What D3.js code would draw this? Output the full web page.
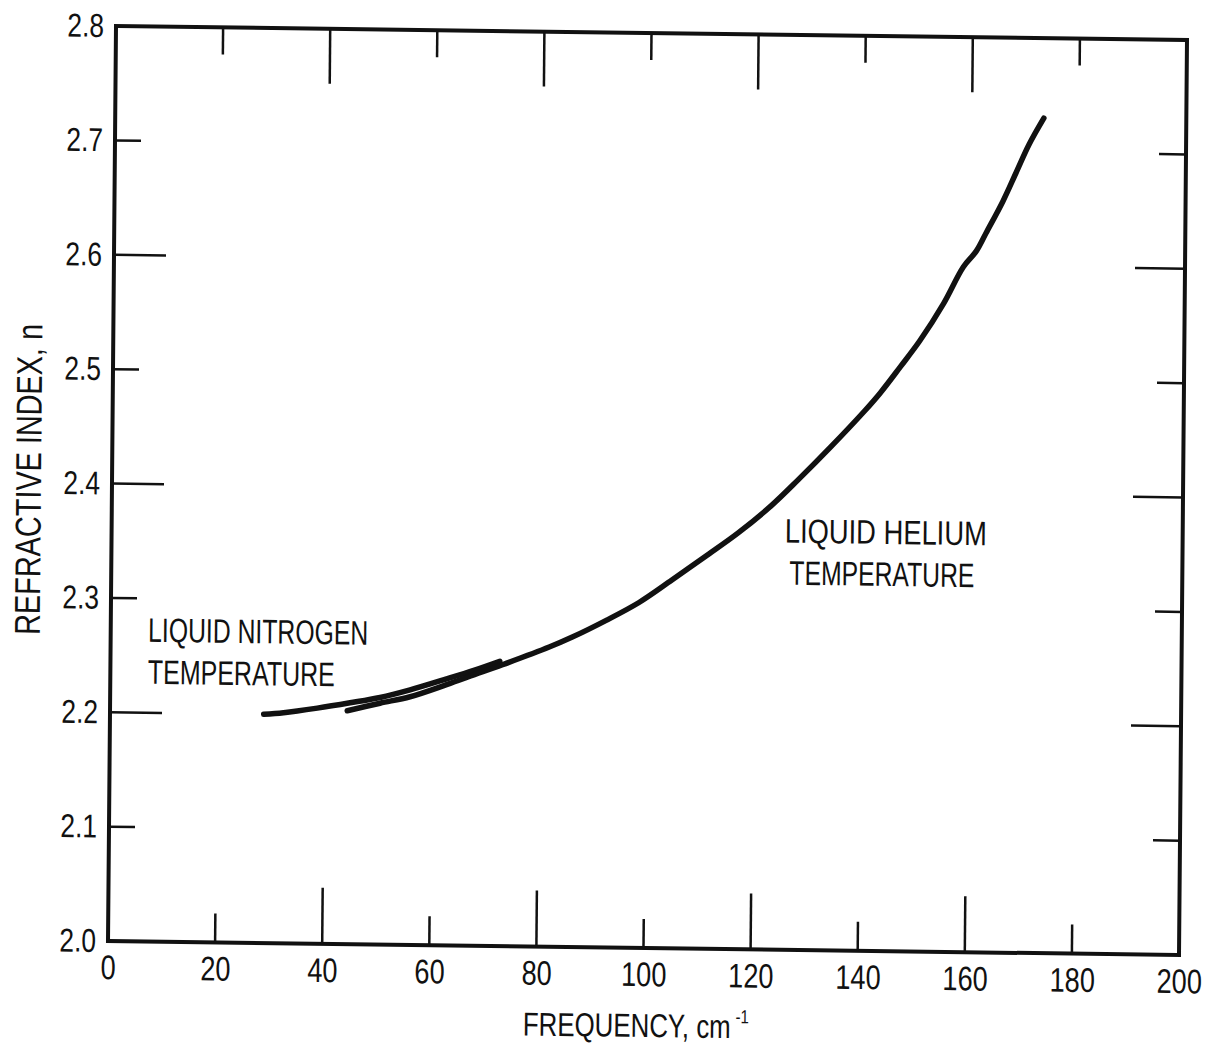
<!DOCTYPE html>
<html>
<head>
<meta charset="UTF-8">
<title>Refractive index vs frequency</title>
<script src="https://d3js.org/d3.v7.min.js"></script>
<style>
  body { margin: 0; background: #fff; }
  svg { display: block; background: #fff; }
  text { font-family: "Liberation Sans", Arial, sans-serif; fill: #111; }
  .frame { fill: none; stroke: #111; stroke-width: 4; }
  .tick-mark { stroke: #111; stroke-width: 2.5; }
  .curve { fill: none; stroke: #111; stroke-width: 5.5; stroke-linecap: round; stroke-linejoin: round; }
</style>
</head>
<body>
<svg id="chart" width="1213" height="1047"></svg>
<script>

// axis ticks
const xTicks = [0, 20, 40, 60, 80, 100, 120, 140, 160, 180, 200];
const yTicks = [2.0, 2.1, 2.2, 2.3, 2.4, 2.5, 2.6, 2.7, 2.8];

// liquid helium temperature curve (frequency cm-1, refractive index)
const heliumFreq = [44.3, 50.4, 56.0, 62.8, 68.0, 73.2, 81.9, 86.2, 92.5, 98.6, 104.7, 110.9, 117.0, 123.1,
                    128.1, 134.1, 140.4, 143.3, 147.0, 150.6, 155.0, 158.6, 161.0, 162.8, 165.9, 168.3, 170.7, 173.4];
const heliumN = [2.204, 2.211, 2.217, 2.228, 2.237, 2.246, 2.262, 2.271, 2.286, 2.302, 2.322, 2.343, 2.364, 2.388,
                 2.411, 2.440, 2.472, 2.488, 2.511, 2.534, 2.567, 2.599, 2.613, 2.629, 2.657, 2.682, 2.707, 2.730];

// liquid nitrogen temperature curve
const nitrogenFreq = [28.7, 32.4, 38.7, 44.8, 50.4, 56.0, 62.8, 68.0, 72.7];
const nitrogenN = [2.200, 2.2016, 2.206, 2.211, 2.216, 2.223, 2.233, 2.241, 2.249];

// curve labels: text lines and anchor (frequency, index)
const nitrogenLabel = ["LIQUID NITROGEN", "TEMPERATURE"];
const nitrogenLabelAt = [7.0, 2.262];
const heliumLabel = ["LIQUID HELIUM", "TEMPERATURE"];
const heliumLabelAt = [125.7, 2.356];

const width = 1213, height = 1047;
const margin = { top: 33, right: 30, bottom: 99, left: 112 };

const x = d3.scaleLinear().domain([0, 200]).range([margin.left, width - margin.right]);
const y = d3.scaleLinear().domain([2.0, 2.8]).range([height - margin.bottom, margin.top]);

const svg = d3.select("#chart");

// the scanned page sits a little askew
const g = svg.append("g")
    .attr("transform", "matrix(1,0.01307,-0.00874,1,4.29,-8.46)");

// lettering on the original is narrower than the fonts we have
function squeeze(sel, factor) {
  sel.each(function() {
    const w = this.getComputedTextLength();
    d3.select(this)
        .attr("textLength", w * factor)
        .attr("lengthAdjust", "spacingAndGlyphs");
  });
}
function fitTo(sel, w) {
  sel.attr("textLength", w).attr("lengthAdjust", "spacingAndGlyphs");
}

// frame
g.append("rect")
    .attr("class", "frame")
    .attr("x", x(0))
    .attr("y", y(2.8))
    .attr("width", x(200) - x(0))
    .attr("height", y(2.0) - y(2.8));

// inward tick marks, alternating long / short
const innerX = xTicks.filter(v => v > 0 && v < 200);
const innerY = yTicks.filter(v => v > 2.0 && v < 2.8);
const isLongX = v => Math.round(v / 20) % 2 === 0;
const isLongY = v => Math.round((v - 2) * 10) % 2 === 0;

const ticks = g.append("g");

ticks.selectAll("line.bottom")
  .data(innerX)
  .enter().append("line")
    .attr("class", "tick-mark bottom")
    .attr("x1", d => x(d)).attr("x2", d => x(d))
    .attr("y1", y(2.0)).attr("y2", d => y(2.0) - (isLongX(d) ? 56 : 29));

ticks.selectAll("line.top")
  .data(innerX)
  .enter().append("line")
    .attr("class", "tick-mark top")
    .attr("x1", d => x(d)).attr("x2", d => x(d))
    .attr("y1", y(2.8)).attr("y2", d => y(2.8) + (isLongX(d) ? 55 : 27));

ticks.selectAll("line.left")
  .data(innerY)
  .enter().append("line")
    .attr("class", "tick-mark left")
    .attr("y1", d => y(d)).attr("y2", d => y(d))
    .attr("x1", x(0)).attr("x2", d => x(0) + (isLongY(d) ? 52 : 26));

ticks.selectAll("line.right")
  .data(innerY)
  .enter().append("line")
    .attr("class", "tick-mark right")
    .attr("y1", d => y(d)).attr("y2", d => y(d))
    .attr("x1", x(200)).attr("x2", d => x(200) - (isLongY(d) ? 50 : 27));

// tick labels
const xAxis = g.append("g")
    .attr("transform", `translate(0,${y(2.0)})`)
    .call(d3.axisBottom(x).tickValues(xTicks).tickSize(0).tickPadding(14).tickFormat(d3.format("d")));
xAxis.select(".domain").remove();
xAxis.attr("font-size", 34).attr("font-family", null);
squeeze(xAxis.selectAll("text"), 0.8);

const yAxis = g.append("g")
    .attr("transform", `translate(${x(0)},0)`)
    .call(d3.axisLeft(y).tickValues(yTicks).tickSize(0).tickPadding(12).tickFormat(d3.format(".1f")));
yAxis.select(".domain").remove();
yAxis.attr("font-size", 33).attr("font-family", null);
squeeze(yAxis.selectAll("text"), 0.8);

// x title, narrowed with a horizontal scale so the superscript stays clear
const xTitleG = g.append("g");
const xTitle = xTitleG.append("text")
    .attr("x", 0)
    .attr("y", 0)
    .attr("font-size", 33);
const xMain = xTitle.append("tspan").text("FREQUENCY, cm");
const sx = 208 / xMain.node().getComputedTextLength();
xTitle.append("tspan")
    .attr("dx", 6)
    .attr("dy", -15)
    .attr("font-size", 19)
    .text("-1");
xTitleG.attr("transform", `translate(${(x(0) + x(200)) / 2 - 120},${y(2.0) + 89}) scale(${sx},1)`);

g.append("text")
    .attr("transform", `translate(41,${(y(2.0) + y(2.8)) / 2 - 3}) rotate(-90)`)
    .attr("text-anchor", "middle")
    .attr("font-size", 36)
    .text("REFRACTIVE INDEX, n")
    .call(fitTo, 311);

// curves
const line = d3.line()
    .x(d => x(d[0]))
    .y(d => y(d[1]))
    .curve(d3.curveCatmullRom);

g.append("path")
    .datum(nitrogenFreq.map((f, i) => [f, nitrogenN[i]]))
    .attr("class", "curve")
    .attr("d", line);

g.append("path")
    .datum(heliumFreq.map((f, i) => [f, heliumN[i]]))
    .attr("class", "curve")
    .attr("d", line);

// curve labels: per line widths and indents of the lettering
function addLabel(lines, at, widths, indents) {
  lines.forEach((s, i) => {
    g.append("text")
        .attr("x", x(at[0]) + indents[i])
        .attr("y", y(at[1]) + i * 42)
        .attr("font-size", 34)
        .text(s)
        .call(fitTo, widths[i]);
  });
}
addLabel(nitrogenLabel, nitrogenLabelAt, [220, 187], [0, 0]);
addLabel(heliumLabel, heliumLabelAt, [202, 185], [0, 5]);

</script>
</body>
</html>
